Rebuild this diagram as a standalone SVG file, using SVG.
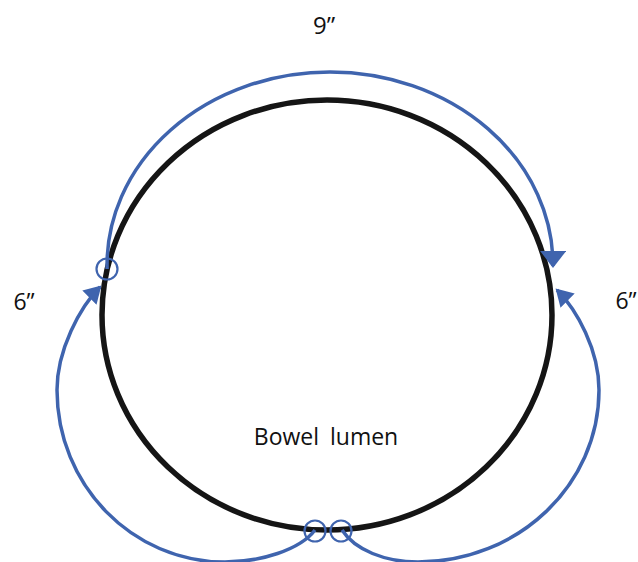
<svg xmlns="http://www.w3.org/2000/svg" width="638" height="562" viewBox="0 0 638 562">
  <defs>
    <style>
      .lumen { fill: none; stroke: #151515; stroke-width: 5.5; }
      .conn { fill: none; stroke: #3F64AE; stroke-width: 3.5; }
      .ring { fill: none; stroke: #3F64AE; stroke-width: 2.2; }
      .lbl { font-family: "Open Sans", "Liberation Sans", sans-serif; font-size: 23px; fill: #111111; text-anchor: middle; }
    </style>
    <marker id="arrowWide" markerUnits="userSpaceOnUse" markerWidth="18" markerHeight="26" refX="15" refY="13" orient="auto">
      <path d="M0,0 L17,13 L0,26 z" fill="#3F64AE"/>
    </marker>
    <marker id="arrow" markerUnits="userSpaceOnUse" markerWidth="18" markerHeight="20" refX="15" refY="10" orient="auto">
      <path d="M0,0 L17,10 L0,20 z" fill="#3F64AE"/>
    </marker>
  </defs>
  <rect width="638" height="562" fill="#ffffff"/>

  <g id="bowel">
    <ellipse class="lumen" cx="327" cy="315" rx="225" ry="215"/>
    <text class="lbl" x="326" y="445" word-spacing="5">Bowel lumen</text>
  </g>

  <g id="connectors">
    <path class="conn" d="M107.1,269 A223,193 0 0 1 330,72 A223,193 0 0 1 553,266" marker-end="url(#arrowWide)"/>
    <path class="conn" d="M315,530 C300,550 260,562 225,562 C132,562 57,485 57,390 C57,350 80,307 100,287" marker-end="url(#arrow)"/>
    <path class="conn" d="M342,530 C355,550 385,562 418,562 C518,562 599,485 599,390 C599,350 577,310 557,290" marker-end="url(#arrow)"/>
  </g>

  <g id="anastomoses">
    <circle class="ring" cx="107" cy="269" r="10.5"/>
    <circle class="ring" cx="315" cy="531" r="10.5"/>
    <circle class="ring" cx="341" cy="531" r="10.5"/>
  </g>

  <g id="labels">
    <text class="lbl" x="324" y="34" style="font-size:24px">9”</text>
    <text class="lbl" x="24" y="310">6”</text>
    <text class="lbl" x="626" y="309">6”</text>
  </g>
</svg>
